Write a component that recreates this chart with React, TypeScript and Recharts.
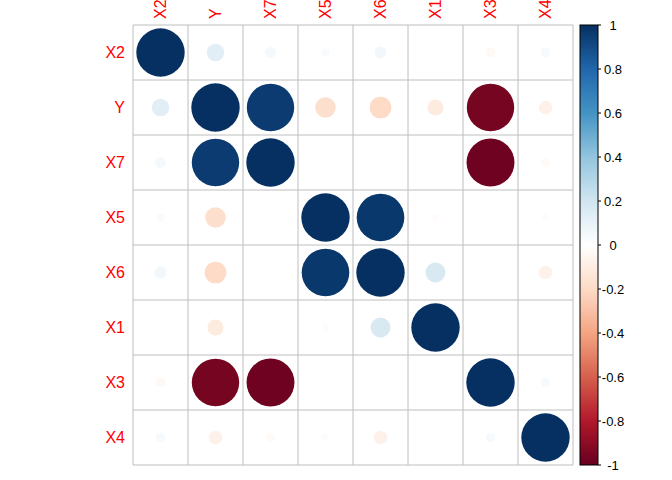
import React from 'react';
import { ScatterChart, Scatter, XAxis, YAxis, ReferenceLine, Customized } from 'recharts';

const VARS = ['X2', 'Y', 'X7', 'X5', 'X6', 'X1', 'X3', 'X4'];

// correlation matrix rows, in VARS order
const R_X2 = [1, 0.13, 0.05, 0.03, 0.06, 0.01, -0.04, 0.04];
const R_Y = [0.13, 1, 0.96, -0.18, -0.2, -0.11, -0.96, -0.08];
const R_X7 = [0.05, 0.96, 1, 0, 0.002, 0, -0.98, -0.03];
const R_X5 = [0.03, -0.18, 0, 1, 0.97, -0.02, 0, 0.02];
const R_X6 = [0.06, -0.2, 0.002, 0.97, 1, 0.17, 0.002, -0.08];
const R_X1 = [0.01, -0.11, 0, -0.02, 0.17, 1, 0, -0.01];
const R_X3 = [-0.04, -0.96, -0.98, 0, 0.002, 0, 1, 0.04];
const R_X4 = [0.04, -0.08, -0.03, 0.02, -0.08, 0.01, 0.04, 1];
const MATRIX = [R_X2, R_Y, R_X7, R_X5, R_X6, R_X1, R_X3, R_X4];

const BAR_TICKS = [1, 0.8, 0.6, 0.4, 0.2, 0, -0.2, -0.4, -0.6, -0.8, -1];

// RdBu, from -1 to 1
const PALETTE = ['#67001F', '#B2182B', '#D6604D', '#F4A582', '#FDDBC7', '#FFFFFF', '#D1E5F0', '#92C5DE', '#4393C3', '#2166AC', '#053061'];

const W = 672;
const H = 480;
const PLOT_LEFT = 133;
const PLOT_TOP = 25;
const PLOT_SIZE = 440;
const CELL = PLOT_SIZE / VARS.length;
const FONT = '"Liberation Sans", Arial, sans-serif';

const hex = (c: string) => [1, 3, 5].map((i) => parseInt(c.slice(i, i + 2), 16));

const colorFor = (v: number) => {
  const t = ((Math.max(-1, Math.min(1, v)) + 1) / 2) * (PALETTE.length - 1);
  const i = Math.min(Math.floor(t), PALETTE.length - 2);
  const f = t - i;
  const a = hex(PALETTE[i]);
  const b = hex(PALETTE[i + 1]);
  const m = a.map((x, k) => Math.round(x + (b[k] - x) * f));
  return `rgb(${m[0]},${m[1]},${m[2]})`;
};

const cells = MATRIX.flatMap((row, i) =>
  row.map((r, j) => ({ x: j + 0.5, y: i + 0.5, r }))
);

const CorrCircle = (props: any) => {
  const { cx, cy, payload } = props;
  const rad = CELL * 0.44 * Math.sqrt(Math.abs(payload.r));
  if (rad < 0.3) return <g />;
  return <circle cx={cx} cy={cy} r={rad} fill={colorFor(payload.r)} />;
};

const TopTick = (props: any) => {
  const { x, y, payload } = props;
  const label = VARS[Math.floor(payload.value)];
  const ty = y + 2;
  return (
    <text x={x} y={ty} dy="0.35em" transform={`rotate(-90, ${x}, ${ty})`} textAnchor="start" fill="#FF0000" fontSize={16} fontFamily={FONT}>
      {label}
    </text>
  );
};

const LeftTick = (props: any) => {
  const { x, y, payload } = props;
  const label = VARS[Math.floor(payload.value)];
  return (
    <text x={x} y={y} dy="0.35em" textAnchor="end" fill="#FF0000" fontSize={16} fontFamily={FONT}>
      {label}
    </text>
  );
};

const ColorBar = () => {
  const bx = 580;
  const bw = 18;
  const yOf = (v: number) => PLOT_TOP + ((1 - v) / 2) * PLOT_SIZE;
  return (
    <g>
      <defs>
        <linearGradient id="rdbu" x1="0" y1="1" x2="0" y2="0">
          {PALETTE.map((c, i) => (
            <stop key={i} offset={`${(i / (PALETTE.length - 1)) * 100}%`} stopColor={c} />
          ))}
        </linearGradient>
      </defs>
      <rect x={bx} y={PLOT_TOP} width={bw} height={PLOT_SIZE} fill="url(#rdbu)" stroke="#000" strokeWidth={1} />
      {BAR_TICKS.map((v) => (
        <g key={v}>
          <line x1={bx + bw} x2={bx + bw + 3} y1={yOf(v)} y2={yOf(v)} stroke="#000" />
          <text x={613} y={yOf(v)} dy="0.35em" textAnchor="middle" fontSize={13} fontFamily={FONT} fill="#000">
            {v}
          </text>
        </g>
      ))}
    </g>
  );
};

const GRID = Array.from({ length: VARS.length + 1 }, (_, i) => i);
const TICKS = VARS.map((_, i) => i + 0.5);

export default function App() {
  return (
    <div style={{ position: 'absolute', left: 0, top: 0, width: W, height: H, background: '#fff' }}>
      <ScatterChart width={W} height={H} margin={{ top: 0, left: 0, right: W - PLOT_LEFT - PLOT_SIZE, bottom: H - PLOT_TOP - PLOT_SIZE }}>
        <XAxis type="number" dataKey="x" orientation="top" domain={[0, 8]} ticks={TICKS} height={PLOT_TOP} axisLine={false} tickLine={false} tick={<TopTick />} interval={0} allowDataOverflow />
        <YAxis type="number" dataKey="y" domain={[0, 8]} reversed ticks={TICKS} width={PLOT_LEFT} axisLine={false} tickLine={false} tick={<LeftTick />} interval={0} allowDataOverflow />
        {GRID.map((g) => (
          <ReferenceLine key={`v${g}`} x={g} stroke="#BEBEBE" strokeWidth={1} ifOverflow="visible" />
        ))}
        {GRID.map((g) => (
          <ReferenceLine key={`h${g}`} y={g} stroke="#BEBEBE" strokeWidth={1} ifOverflow="visible" />
        ))}
        <Scatter data={cells} shape={<CorrCircle />} isAnimationActive={false} />
        <Customized component={<ColorBar />} />
      </ScatterChart>
    </div>
  );
}
